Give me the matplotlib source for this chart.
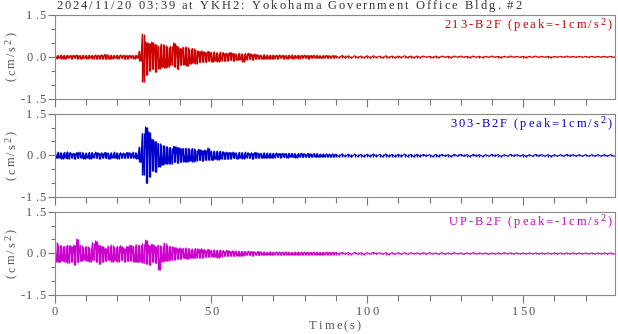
import numpy as np
import matplotlib.pyplot as plt
from matplotlib import font_manager, ft2font
from matplotlib.transforms import IdentityTransform

title = "2024/11/20 03:39 at YKH2: Yokohama Government Office Bldg. #2"
names = ["213-B2F (peak=-1cm/s", "303-B2F (peak=1cm/s", "UP-B2F (peak=-1cm/s"]
colors = ["#cc0000", "#0000cc", "#cc00cc"]
yticks = [-1.5, 0.0, 1.5]
ytick_labels = ["-1.5", "0.0", "1.5"]
xticks = [0, 50, 100, 150]

# envelope: 1 s steps for 0-89 s, 2 s steps for 90-178 s
t_a = np.arange(0, 90, 1.0)
t_b = np.arange(90, 180, 2.0)

red_up_a = [.06, .05, .07, .05, .06, .05, .06, .07, .05, .06,
            .05, .06, .05, .07, .06, .08, .09, .07, .06, .05,
            .06, .07, .06, .05, .06, .05, .06, .20, .81, .55,
            .48, .54, .45, .40, .46, .42, .35, .38, .50, .40,
            .30, .35, .36, .28, .30, .24, .20, .22, .18, .20,
            .16, .18, .14, .17, .15, .13, .16, .12, .11, .13,
            .10, .12, .13, .09, .10, .08, .07, .08, .07, .06,
            .07, .06, .07, .06, .05, .06, .07, .05, .06, .05,
            .06, .05, .05, .06, .05, .04, .05, .05, .04, .05]
red_lo_a = [-.06, -.05, -.06, -.07, -.05, -.06, -.05, -.06, -.07, -.05,
            -.06, -.05, -.06, -.06, -.07, -.06, -.08, -.07, -.06, -.05,
            -.06, -.05, -.07, -.06, -.05, -.06, -.05, -.15, -.89, -.65,
            -.50, -.45, -.55, -.42, -.38, -.40, -.36, -.30, -.35, -.45,
            -.30, -.28, -.33, -.25, -.22, -.24, -.20, -.18, -.20, -.16,
            -.18, -.15, -.17, -.14, -.16, -.14, -.12, -.15, -.12, -.10,
            -.18, -.10, -.09, -.10, -.08, -.07, -.08, -.07, -.06, -.07,
            -.06, -.07, -.05, -.06, -.06, -.05, -.06, -.05, -.06, -.05,
            -.05, -.06, -.05, -.04, -.05, -.05, -.04, -.05, -.04, -.04]
red_up_b = [.04, .05, .04, .04, .03, .04, .04, .03, .04, .03,
            .03, .04, .03, .03, .03, .02, .03, .03, .02, .03,
            .03, .02, .03, .02, .02, .03, .02, .02, .03, .02,
            .02, .02, .03, .02, .02, .02, .02, .03, .02, .02,
            .02, .02, .02, .02, .02]
red_lo_b = [-.04, -.04, -.05, -.03, -.04, -.04, -.03, -.04, -.03, -.04,
            -.03, -.03, -.04, -.03, -.02, -.03, -.03, -.02, -.03, -.02,
            -.02, -.03, -.02, -.03, -.02, -.02, -.03, -.02, -.02, -.02,
            -.03, -.02, -.02, -.02, -.03, -.02, -.02, -.02, -.02, -.02,
            -.02, -.02, -.02, -.02, -.02]

blue_up_a = [.10, .12, .09, .11, .13, .10, .08, .11, .12, .10,
             .09, .11, .10, .12, .09, .10, .11, .09, .10, .12,
             .08, .10, .09, .11, .10, .12, .09, .30, .79, 1.02,
             .85, .60, .50, .43, .38, .35, .31, .28, .33, .30,
             .27, .25, .26, .24, .25, .20, .22, .18, .20, .27,
             .17, .15, .16, .15, .13, .12, .11, .12, .10, .11,
             .10, .12, .09, .10, .11, .09, .08, .10, .09, .08,
             .08, .09, .07, .08, .07, .08, .07, .06, .07, .08,
             .06, .07, .06, .07, .06, .05, .06, .06, .05, .06]
blue_lo_a = [-.10, -.09, -.12, -.10, -.11, -.09, -.12, -.10, -.09, -.11,
             -.10, -.12, -.09, -.10, -.11, -.09, -.10, -.12, -.09, -.10,
             -.11, -.09, -.10, -.08, -.10, -.09, -.11, -.25, -.70, -1.00,
             -.76, -.55, -.60, -.40, -.35, -.30, -.29, -.30, -.25, -.27,
             -.24, -.22, -.23, -.20, -.22, -.20, -.18, -.20, -.17, -.16,
             -.18, -.14, -.15, -.13, -.14, -.12, -.11, -.10, -.12, -.10,
             -.11, -.09, -.10, -.12, -.09, -.08, -.10, -.09, -.08, -.09,
             -.08, -.07, -.08, -.07, -.08, -.06, -.07, -.08, -.06, -.07,
             -.06, -.07, -.05, -.06, -.06, -.05, -.06, -.05, -.06, -.05]
blue_up_b = [.05, .06, .05, .05, .04, .05, .05, .04, .05, .04,
             .04, .05, .04, .04, .04, .03, .04, .04, .03, .04,
             .04, .03, .04, .03, .03, .04, .03, .03, .04, .03,
             .03, .03, .04, .03, .03, .03, .03, .04, .03, .03,
             .03, .03, .03, .03, .03]
blue_lo_b = [-.05, -.05, -.06, -.04, -.05, -.05, -.04, -.05, -.04, -.05,
             -.04, -.04, -.05, -.04, -.03, -.04, -.04, -.03, -.04, -.03,
             -.03, -.04, -.03, -.04, -.03, -.03, -.04, -.03, -.03, -.03,
             -.04, -.03, -.03, -.03, -.04, -.03, -.03, -.03, -.03, -.03,
             -.03, -.03, -.03, -.03, -.03]

mag_up_a = [.42, .30, .28, .25, .30, .27, .30, .52, .30, .22,
            .25, .20, .39, .45, .30, .25, .20, .27, .30, .22,
            .25, .28, .20, .25, .30, .27, .32, .30, .35, .48,
            .30, .33, .28, .30, .25, .37, .28, .25, .22, .20,
            .20, .18, .20, .17, .16, .18, .15, .17, .14, .15,
            .12, .13, .11, .12, .10, .12, .09, .10, .09, .08,
            .08, .07, .08, .07, .06, .07, .06, .06, .05, .06,
            .05, .06, .05, .05, .06, .05, .04, .05, .05, .04,
            .05, .04, .04, .05, .04, .04, .04, .05, .04, .04]
mag_lo_a = [-.30, -.32, -.28, -.30, -.35, -.30, -.40, -.32, -.28, -.25,
            -.28, -.30, -.25, -.30, -.38, -.30, -.28, -.25, -.30, -.27,
            -.30, -.25, -.30, -.28, -.26, -.30, -.32, -.30, -.35, -.38,
            -.42, -.30, -.35, -.58, -.30, -.28, -.27, -.25, -.22, -.20,
            -.20, -.18, -.20, -.17, -.18, -.15, -.16, -.15, -.14, -.13,
            -.12, -.13, -.15, -.11, -.10, -.10, -.09, -.10, -.08, -.09,
            -.08, -.07, -.07, -.08, -.06, -.07, -.06, -.06, -.05, -.06,
            -.05, -.05, -.06, -.05, -.04, -.05, -.05, -.04, -.05, -.04,
            -.04, -.05, -.04, -.04, -.04, -.05, -.04, -.04, -.04, -.04]
mag_up_b = [.04, .04, .03, .04, .03, .03, .04, .03, .03, .03,
            .03, .03, .03, .02, .03, .03, .02, .03, .02, .03,
            .02, .02, .03, .02, .02, .02, .02, .03, .02, .02,
            .02, .02, .02, .02, .02, .02, .02, .02, .02, .02,
            .02, .02, .02, .02, .02]
mag_lo_b = [-.04, -.03, -.04, -.03, -.04, -.03, -.03, -.03, -.04, -.03,
            -.03, -.03, -.02, -.03, -.03, -.02, -.03, -.03, -.02, -.02,
            -.03, -.02, -.02, -.02, -.03, -.02, -.02, -.02, -.02, -.02,
            -.02, -.02, -.02, -.02, -.02, -.02, -.02, -.02, -.02, -.02,
            -.02, -.02, -.02, -.02, -.02]

traces = [(red_up_a + red_up_b, red_lo_a + red_lo_b),
          (blue_up_a + blue_up_b, blue_lo_a + blue_lo_b),
          (mag_up_a + mag_up_b, mag_lo_a + mag_lo_b)]

W, H = 618, 334
GRAY = "#555555"
FONT = font_manager.findfont("Liberation Serif")
fonts = {}


def adv(ch, size):
    # glyph advance in pixels at 100 dpi
    if size not in fonts:
        f = ft2font.FT2Font(FONT)
        f.set_size(size, 100)
        fonts[size] = f
    return fonts[size].load_char(ord(ch)).linearHoriAdvance / 65536


def spaced(fig, x, y, parts, color, ha="left", rot=0, size=9, track=2.0):
    # the reference font is set with wide letter spacing, so lay glyphs out one by one
    # x, y: pixels from top-left, y is the baseline
    glyphs = []
    for s, sup in parts:
        for ch in s:
            sz = 7.5 if sup else size
            glyphs.append((ch, sz, 3.8 if sup else 0.0))
    total = sum(adv(ch, sz) + track for ch, sz, _ in glyphs) - track
    pos = {"left": 0, "center": -total / 2, "right": -total}[ha]
    for ch, sz, rise in glyphs:
        if ch != " ":
            if rot == 0:
                px, py = x + pos, y - rise
            else:
                px, py = x - rise, y - pos
            fig.text(px, H - py, ch, transform=IdentityTransform(), ha="left",
                     va="baseline", rotation=rot, rotation_mode="anchor",
                     fontsize=sz, color=color, family="Liberation Serif")
        pos += adv(ch, sz) + track


t = np.concatenate([t_a, t_b])
step = np.diff(np.append(t, 180.0))

fig = plt.figure(figsize=(W / 100, H / 100), dpi=100)
bottoms = [0.7045, 0.4093, 0.1159]

for i, (up, lo) in enumerate(traces):
    ax = fig.add_axes([0.089, bottoms[i], 0.906, 0.2506])
    up = np.array(up)
    lo = np.array(lo)
    # trace swings up at each step and down half a step later
    x = np.empty(2 * len(t))
    y = np.empty(2 * len(t))
    x[0::2] = t
    x[1::2] = t + step / 2
    y[0::2] = up
    y[1::2] = lo
    ax.plot(x, y, color=colors[i], lw=0.8)
    ax.vlines(x, np.repeat(lo, 2), np.repeat(up, 2), color=colors[i], lw=1.0)

    ax.set_xlim(0, 179.4)
    ax.set_ylim(-1.5, 1.5)
    ax.set_yticks(yticks)
    ax.set_yticks(np.arange(-1.5, 1.6, 0.5), minor=True)
    ax.set_xticks(xticks)
    ax.set_xticks(np.arange(0, 180, 10), minor=True)
    ax.tick_params(labelleft=False, labelbottom=False)
    ax.tick_params(axis="y", which="major", length=5, width=0.8, color="#777777")
    ax.tick_params(axis="y", which="minor", length=3, width=0.8, color="#777777")
    ax.tick_params(axis="x", which="major", length=6, width=0.8, color="#777777")
    ax.tick_params(axis="x", which="minor", length=4, width=0.8, color="#777777")
    for s in ax.spines.values():
        s.set_color("#888888")
        s.set_linewidth(0.8)

    top = H - ax.transAxes.transform((0, 1))[1]
    mid = H - ax.transAxes.transform((0, 0.5))[1]
    bot = H - ax.transAxes.transform((0, 0))[1]
    right = ax.transAxes.transform((1, 0))[0]

    for v, lab in zip(yticks, ytick_labels):
        py = H - ax.transData.transform((0, v))[1]
        spaced(fig, 46, py + 4, [(lab, False)], GRAY, ha="right")

    spaced(fig, 15, mid, [("(cm/s", False), ("2", True), (")", False)],
           GRAY, ha="center", rot=90)
    spaced(fig, right - 3, top + 13.5, [(names[i], False), ("2", True), (")", False)],
           colors[i], ha="right")

    if i == 2:
        for v in xticks:
            px = ax.transData.transform((v, 0))[0]
            spaced(fig, px, bot + 19.5, [(str(v), False)], GRAY, ha="center")
        spaced(fig, (ax.transAxes.transform((0.5, 0))[0]), bot + 33.5,
               [("Time(s)", False)], GRAY, ha="center")

spaced(fig, 56, 9, [(title, False)], "#333333")

fig.savefig("out.png", dpi=100)
